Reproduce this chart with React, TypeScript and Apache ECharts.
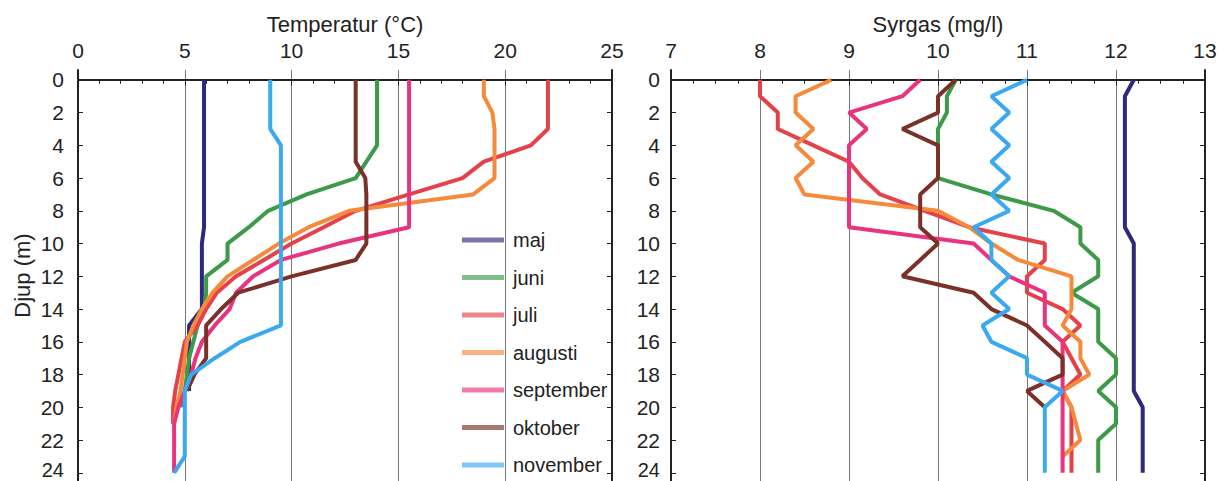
import React, { useEffect, useRef } from "react";
import * as echarts from "echarts";

const depths = [0, 1, 2, 3, 4, 5, 6, 7, 8, 9, 10, 11, 12, 13, 14, 15, 16, 17, 18, 19, 20, 21, 22, 23, 24];
const depthTicks = [0, 2, 4, 6, 8, 10, 12, 14, 16, 18, 20, 22, 24];
const months = ["maj", "juni", "juli", "augusti", "september", "oktober", "november"];
const colors = ["#2d2a7c", "#3c9a48", "#e5414a", "#f58a3c", "#e8347f", "#7a3128", "#3aa9ef"];

// Temperatur (°C) per djup 0,1,2,... m
const tempMaj = [5.9, 5.9, 5.9, 5.9, 5.9, 5.9, 5.9, 5.9, 5.9, 5.9, 5.8, 5.8, 5.8, 5.8, 5.8, 5.2, 5.2, 5.2, 5.2, 5.2];
const tempJuni = [14.0, 14.0, 14.0, 14.0, 14.0, 13.5, 13.0, 10.7, 8.9, 8.0, 7.0, 7.0, 6.0, 6.0, 5.9, 5.6, 5.4, 5.2, 5.1, 5.0, 4.8];
const tempJuli = [22.0, 22.0, 22.0, 22.0, 21.2, 19.0, 18.0, 15.5, 13.0, 11.5, 10.0, 8.7, 7.4, 6.5, 6.0, 5.6, 5.0, 4.85, 4.7, 4.55, 4.45, 4.45];
const tempAugusti = [19.0, 19.0, 19.4, 19.5, 19.5, 19.5, 19.5, 18.5, 12.7, 10.8, 9.4, 8.2, 7.0, 6.3, 5.8, 5.4, 5.1, 5.0, 4.9, 4.8, 4.6, 4.5];
const tempSeptember = [15.5, 15.5, 15.5, 15.5, 15.5, 15.5, 15.5, 15.5, 15.5, 15.5, 12.2, 9.5, 8.2, 7.4, 7.1, 6.4, 5.8, 5.5, 5.3, 5.0, 4.7, 4.5, 4.5, 4.5, 4.5];
const tempOktober = [13.0, 13.0, 13.0, 13.0, 13.0, 13.0, 13.45, 13.5, 13.5, 13.5, 13.5, 13.0, 10.0, 7.5, 6.7, 6.0, 6.0, 6.0, 5.45, 5.1];
const tempNovember = [9.0, 9.0, 9.0, 9.0, 9.5, 9.5, 9.5, 9.5, 9.5, 9.5, 9.5, 9.5, 9.5, 9.5, 9.5, 9.5, 7.6, 6.4, 5.3, 5.0, 5.0, 5.0, 5.0, 5.0, 4.5];

// Syrgas (mg/l) per djup 0,1,2,... m
const oxyMaj = [12.2, 12.1, 12.1, 12.1, 12.1, 12.1, 12.1, 12.1, 12.1, 12.1, 12.2, 12.2, 12.2, 12.2, 12.2, 12.2, 12.2, 12.2, 12.2, 12.2, 12.3, 12.3, 12.3, 12.3, 12.3];
const oxyJuni = [10.2, 10.1, 10.1, 10.0, 10.0, 10.0, 10.0, 10.6, 11.3, 11.6, 11.6, 11.8, 11.8, 11.5, 11.8, 11.8, 11.8, 12.0, 12.0, 11.8, 12.0, 12.0, 11.8, 11.8, 11.8];
const oxyJuli = [8.0, 8.0, 8.2, 8.2, 8.6, 9.0, 9.15, 9.35, 9.85, 10.35, 11.2, 11.2, 11.0, 11.0, 11.4, 11.6, 11.4, 11.5, 11.6, 11.4, 11.5, 11.5, 11.5, 11.5, 11.5];
const oxyAugusti = [8.8, 8.4, 8.4, 8.6, 8.4, 8.6, 8.4, 8.5, 10.0, 10.35, 10.6, 10.9, 11.5, 11.5, 11.5, 11.4, 11.6, 11.6, 11.7, 11.4, 11.5, 11.55, 11.6, 11.4];
const oxySeptember = [9.8, 9.6, 9.0, 9.2, 9.0, 9.0, 9.0, 9.0, 9.0, 9.0, 10.4, 10.6, 10.8, 11.2, 11.2, 11.2, 11.4, 11.4, 11.4, 11.4, 11.4, 11.4, 11.4, 11.4, 11.4];
const oxyOktober = [10.2, 10.0, 10.0, 9.6, 10.0, 10.0, 10.0, 9.8, 9.8, 9.8, 10.0, 9.8, 9.6, 10.4, 10.6, 11.0, 11.2, 11.4, 11.4, 11.0, 11.2];
const oxyNovember = [11.0, 10.6, 10.8, 10.6, 10.8, 10.6, 10.8, 10.6, 10.8, 10.4, 10.6, 10.6, 10.8, 10.6, 10.8, 10.5, 10.6, 11.0, 11.0, 11.4, 11.2, 11.2, 11.2, 11.2, 11.2];

const tempSeries = [tempMaj, tempJuni, tempJuli, tempAugusti, tempSeptember, tempOktober, tempNovember];
const oxySeries = [oxyMaj, oxyJuni, oxyJuli, oxyAugusti, oxySeptember, oxyOktober, oxyNovember];

const FONT = "'Liberation Sans', Arial, Helvetica, sans-serif";
const INK = "#222";
const LAST_DEPTH = depthTicks[depthTicks.length - 1];

function yAxisCfg(gridIndex: number, position: "left" | "right", showLabels: boolean, margin: number, name?: string) {
  return {
    type: "value",
    gridIndex,
    position,
    inverse: true,
    min: -0.6,
    max: 24.5,
    name: name || "",
    nameLocation: "middle",
    nameGap: 45,
    nameRotate: 90,
    nameTextStyle: { fontSize: 22, color: INK, fontFamily: FONT },
    axisLine: { show: true, lineStyle: { color: INK, width: 2 } },
    axisTick: { show: true, inside: true, length: 5, customValues: depthTicks, lineStyle: { color: INK, width: 1 } },
    axisLabel: {
      show: showLabels,
      customValues: depthTicks,
      fontSize: 21,
      color: INK,
      margin,
      fontFamily: FONT,
      formatter: (v: number) => (v === LAST_DEPTH ? "{last|" + v + "}" : String(v)),
      rich: { last: { fontSize: 20, color: INK, fontFamily: FONT, padding: [0, 0, 6, 0] } },
    },
    splitLine: { show: false },
  };
}

function xAxisCfg(gridIndex: number, min: number, max: number, interval: number, minorSplit: number, name: string) {
  return {
    type: "value",
    gridIndex,
    position: "top",
    min,
    max,
    interval,
    name,
    nameLocation: "middle",
    nameGap: 34,
    nameTextStyle: { fontSize: 22, color: INK, fontFamily: FONT },
    axisLine: { show: true, lineStyle: { color: INK, width: 2 } },
    axisTick: { show: true, inside: true, length: 6, lineStyle: { color: INK, width: 1 } },
    minorTick: { show: true, splitNumber: minorSplit, length: 4, lineStyle: { color: INK, width: 1 } },
    axisLabel: { fontSize: 21, color: INK, margin: 9, fontFamily: FONT },
    splitLine: { show: true, lineStyle: { color: "#777", width: 1 } },
    minorSplitLine: { show: false },
  };
}

export default function App() {
  const ref = useRef<HTMLDivElement>(null);
  useEffect(() => {
    if (!ref.current) return;
    const chart = echarts.init(ref.current, null, { renderer: "svg" });
    const series: any[] = [];
    months.forEach((m, i) => {
      series.push({
        type: "line",
        name: m,
        xAxisIndex: 0,
        yAxisIndex: 0,
        showSymbol: false,
        symbol: "none",
        lineStyle: { width: 4, color: colors[i] },
        itemStyle: { color: colors[i] },
        data: tempSeries[i].map((v, k) => [v, depths[k]]),
      });
    });
    months.forEach((m, i) => {
      series.push({
        type: "line",
        name: m,
        xAxisIndex: 1,
        yAxisIndex: 2,
        showSymbol: false,
        symbol: "none",
        lineStyle: { width: 4, color: colors[i] },
        itemStyle: { color: colors[i] },
        data: oxySeries[i].map((v, k) => [v, depths[k]]),
      });
    });
    chart.setOption({
      animation: false,
      textStyle: { fontFamily: FONT },
      grid: [
        { left: 78, top: 70, width: 534, height: 411, containLabel: false, outerBoundsMode: "none" },
        { left: 671, top: 70, width: 534, height: 411, containLabel: false, outerBoundsMode: "none" },
      ],
      xAxis: [
        xAxisCfg(0, 0, 25, 5, 5, "Temperatur (°C)"),
        xAxisCfg(1, 7, 13, 1, 4, "Syrgas (mg/l)"),
      ],
      yAxis: [
        yAxisCfg(0, "left", true, 14, "Djup (m)"),
        yAxisCfg(0, "right", false, 8),
        yAxisCfg(1, "left", true, 11),
        yAxisCfg(1, "right", false, 8),
      ],
      legend: {
        data: months,
        orient: "vertical",
        left: 462,
        top: 230,
        height: 300,
        padding: 0,
        icon: "rect",
        itemWidth: 42,
        itemHeight: 5,
        itemGap: 17.5,
        itemStyle: { opacity: 0.65 },
        textStyle: { fontSize: 20, color: INK, fontFamily: FONT, lineHeight: 20, padding: [0, 0, 0, 4] },
      },
      series,
    });
    return () => chart.dispose();
  }, []);
  return <div ref={ref} style={{ position: "fixed", left: 0, top: 0, width: 1225, height: 481, background: "#fff" }} />;
}
